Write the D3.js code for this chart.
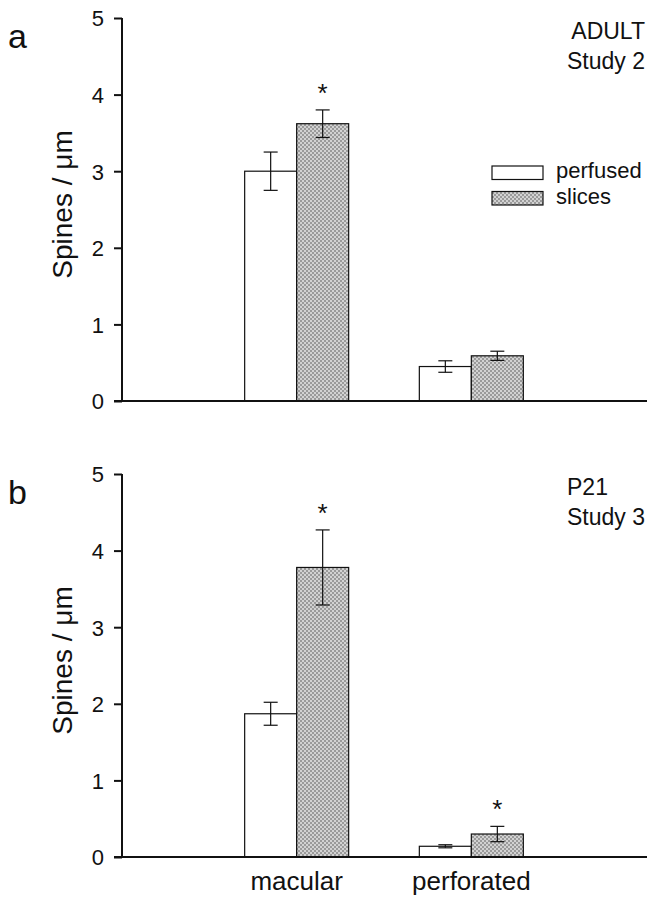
<!DOCTYPE html>
<html><head><meta charset="utf-8">
<script src="https://cdn.jsdelivr.net/npm/d3@7"></script>
<style>
body{margin:0;background:#fff;}
svg{display:block;font-family:Arial,"Liberation Sans",Helvetica,sans-serif;}
</style></head>
<body>
<svg id="chart" width="656" height="900"></svg>
<script>
// ---- data ----
const categories = ["macular", "perforated"];
const series = ["perfused", "slices"];
const yTicks = [0, 1, 2, 3, 4, 5];

// Panel a: ADULT Study 2
const adultPerfused = [3.00, 0.45];
const adultPerfusedErr = [0.25, 0.075];
const adultSlices = [3.62, 0.59];
const adultSlicesErr = [0.18, 0.06];
const adultStars = [[false, true], [false, false]]; // [perfused, slices] per category

// Panel b: P21 Study 3
const p21Perfused = [1.87, 0.14];
const p21PerfusedErr = [0.15, 0.02];
const p21Slices = [3.78, 0.30];
const p21SlicesErr = [0.49, 0.10];
const p21Stars = [[false, true], [false, true]];

const panels = [
  {letter: "a", info: ["ADULT", "Study 2"], infoAnchor: "end", infoX: 645,
   vals: [adultPerfused, adultSlices], errs: [adultPerfusedErr, adultSlicesErr], stars: adultStars,
   yTop: 18, yBot: 401, showCats: false},
  {letter: "b", info: ["P21", "Study 3"], infoAnchor: "start", infoX: 567,
   vals: [p21Perfused, p21Slices], errs: [p21PerfusedErr, p21SlicesErr], stars: p21Stars,
   yTop: 474, yBot: 857, showCats: true}
];

const svg = d3.select("#chart");
const axisLeft = 122, axisRight = 646;
const x = d3.scalePoint().domain(categories).range([axisLeft, axisRight]).padding(1);
const barW = 52;
const xs = d3.scaleBand().domain(series).range([-barW, barW]).padding(0);

// pattern
const defs = svg.append("defs");
const pat = defs.append("pattern").attr("id", "dots").attr("patternUnits", "userSpaceOnUse")
  .attr("width", 4).attr("height", 4);
pat.append("rect").attr("width", 4).attr("height", 4).attr("fill", "#d2d2d2");
pat.append("rect").attr("x", 0).attr("y", 0).attr("width", 2).attr("height", 2).attr("fill", "#9a9a9a");
pat.append("rect").attr("x", 2).attr("y", 2).attr("width", 2).attr("height", 2).attr("fill", "#9a9a9a");
const fills = {perfused: "#ffffff", slices: "url(#dots)"};

panels.forEach((p, pi) => {
  const g = svg.append("g");
  const y = d3.scaleLinear().domain([0, 5]).range([p.yBot, p.yTop]);

  // bars
  series.forEach((s, si) => {
    categories.forEach((c, ci) => {
      const v = p.vals[si][ci], e = p.errs[si][ci];
      const bx = x(c) + xs(s);
      g.append("rect").attr("x", bx).attr("y", y(v)).attr("width", xs.bandwidth())
        .attr("height", y(0) - y(v)).attr("fill", fills[s])
        .attr("stroke", "#111").attr("stroke-width", 1.2);
      const cx = bx + xs.bandwidth() / 2;
      const eg = g.append("g").attr("stroke", "#111").attr("stroke-width", 1.2);
      eg.append("line").attr("x1", cx).attr("x2", cx).attr("y1", y(v + e)).attr("y2", y(v - e));
      eg.append("line").attr("x1", cx - 7).attr("x2", cx + 7).attr("y1", y(v + e)).attr("y2", y(v + e));
      eg.append("line").attr("x1", cx - 7).attr("x2", cx + 7).attr("y1", y(v - e)).attr("y2", y(v - e));
      if (p.stars[ci][si]) {
        g.append("text").attr("x", cx).attr("y", y(v + e) - 8).attr("text-anchor", "middle")
          .attr("font-size", 26).attr("fill", "#111").text("*");
      }
    });
  });

  // y axis
  const ax = g.append("g").attr("transform", `translate(${axisLeft},0)`)
    .call(d3.axisLeft(y).tickValues(yTicks).tickSize(8).tickPadding(10).tickFormat(d3.format("d")));
  ax.select(".domain").attr("stroke", "#111").attr("stroke-width", 2).attr("d", `M0,${p.yTop}V${p.yBot}`);
  ax.selectAll(".tick line").attr("stroke", "#111").attr("stroke-width", 2);
  ax.selectAll(".tick text").attr("font-size", 22).attr("fill", "#111").attr("font-family", "Arial, 'Liberation Sans', sans-serif").attr("dy", "0.36em");

  // x axis line
  g.append("line").attr("x1", axisLeft - 8).attr("x2", axisRight + 1).attr("y1", y(0)).attr("y2", y(0))
    .attr("stroke", "#111").attr("stroke-width", 2);

  // axis title
  const ty = (p.yTop + p.yBot) / 2 - 5;
  g.append("text").attr("transform", `translate(72,${ty}) rotate(-90)`).attr("text-anchor", "middle")
    .attr("font-size", 28).attr("fill", "#111").text("Spines / μm");

  // panel letter
  g.append("text").attr("x", 8).attr("y", p.yTop + 30).attr("font-size", 34).attr("fill", "#111").text(p.letter);

  // info text
  p.info.forEach((t, i) => {
    g.append("text").attr("x", p.infoX).attr("y", p.yTop + 21 + i * 30).attr("text-anchor", p.infoAnchor)
      .attr("font-size", 23).attr("fill", "#111").text(t);
  });

  // category labels
  if (p.showCats) {
    categories.forEach(c => {
      g.append("text").attr("x", x(c)).attr("y", 890).attr("text-anchor", "middle")
        .attr("font-size", 26).attr("fill", "#111").text(c);
    });
  }

  // legend (panel a only)
  if (pi === 0) {
    const lg = g.append("g");
    series.forEach((s, i) => {
      lg.append("rect").attr("x", 492).attr("y", 166 + i * 25.5).attr("width", 51).attr("height", 13.5)
        .attr("fill", fills[s]).attr("stroke", "#111").attr("stroke-width", 1.2);
      lg.append("text").attr("x", 556).attr("y", 178 + i * 25.5).attr("font-size", 22)
        .attr("fill", "#111").text(s);
    });
  }
});
</script>
</body></html>
